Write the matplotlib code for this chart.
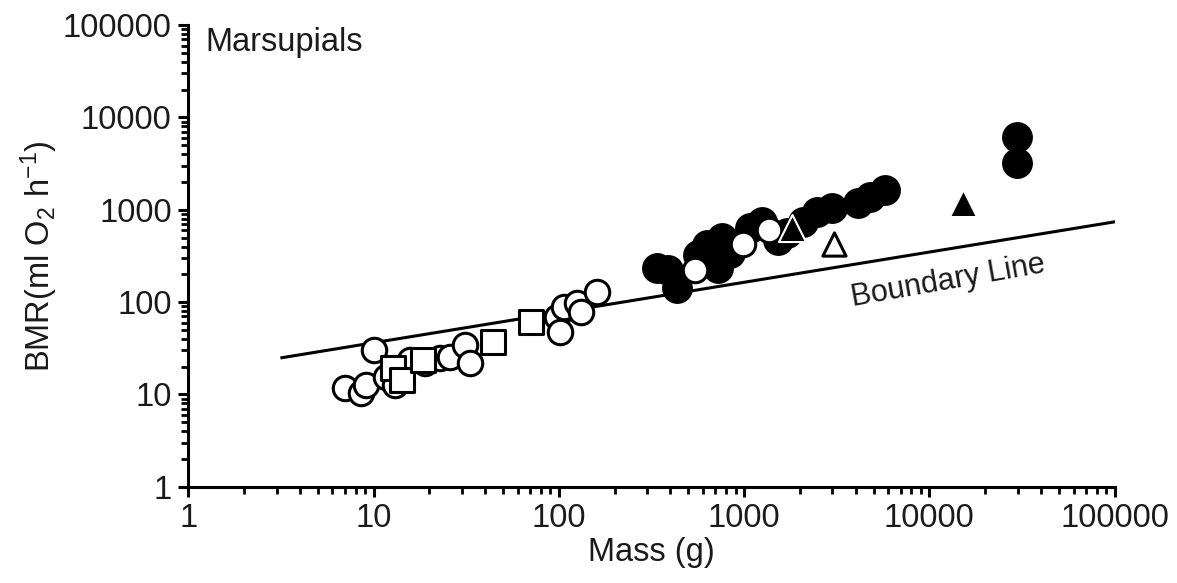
import matplotlib
matplotlib.use("Agg")
import matplotlib.pyplot as plt
from matplotlib.ticker import LogLocator, NullFormatter

plt.rcParams['font.family'] = ['Liberation Sans', 'DejaVu Sans']
plt.rcParams['mathtext.default'] = 'regular'

# open circles (mass g, BMR ml O2/h)
open_circle_mass = [7.0, 8.5, 9.1, 10.0, 11.6, 13.1, 15.8, 19.0, 22.9, 25.9, 31.3, 33.2,
                    98, 102, 106, 126, 131, 161, 545, 989, 1366]
open_circle_bmr = [11.8, 10.4, 12.7, 30.4, 15.5, 12.7, 23.7, 22.0, 24.9, 25.5, 34.4, 22.0,
                   69, 47.5, 88.7, 98, 78, 129, 223, 427, 604]

# open squares
square_mass = [12.8, 14.3, 18.5, 44.3, 71]
square_bmr = [19.4, 14.4, 23.7, 37.1, 61]

# filled circles
filled_mass = [340, 389, 436, 565, 632, 725, 762, 842, 1079, 1253, 1528, 1700,
               2083, 2480, 2988, 4130, 4796, 5769, 29770, 29770]
filled_bmr = [234, 223, 142, 324, 416, 234, 495, 341, 635, 738, 471, 560,
              738, 946, 1045, 1186, 1376, 1638, 6135, 3209]

# triangles
filled_tri_mass = [1818, 15210]
filled_tri_bmr = [635, 1185]
open_tri_mass = [3064]
open_tri_bmr = [426]

# boundary line end points
boundary_mass = [3.2, 100000]
boundary_bmr = [25, 740]

xtick_vals = [1, 10, 100, 1000, 10000, 100000]
xtick_labels = ['1', '10', '100', '1000', '10000', '100000']
ytick_vals = [1, 10, 100, 1000, 10000, 100000]
ytick_labels = ['1', '10', '100', '1000', '10000', '100000']

fig = plt.figure(figsize=(11.77, 5.83), dpi=100)
ax = fig.add_axes([0.160, 0.165, 0.787, 0.792])
ax.set_xscale('log')
ax.set_yscale('log')

ax.plot(boundary_mass, boundary_bmr, color='black', lw=2.2, zorder=1)

ax.scatter(filled_mass, filled_bmr, s=450, facecolor='black', edgecolor='black',
           linewidths=1, zorder=2)
ax.scatter(open_circle_mass, open_circle_bmr, s=310, facecolor='white', edgecolor='black',
           linewidths=2.2, zorder=3)
ax.scatter(square_mass, square_bmr, s=300, marker='s', facecolor='white', edgecolor='black',
           linewidths=2.2, zorder=4)
ax.scatter(filled_tri_mass, filled_tri_bmr, s=380, marker='^', facecolor='black',
           edgecolor='white', linewidths=1.5, zorder=5)
ax.scatter(open_tri_mass, open_tri_bmr, s=280, marker='^', facecolor='white',
           edgecolor='black', linewidths=2.2, zorder=5)

ax.set_xlim(1, 100000)
ax.set_ylim(1, 100000)

ax.set_xticks(xtick_vals)
ax.set_xticklabels(xtick_labels)
ax.set_yticks(ytick_vals)
ax.set_yticklabels(ytick_labels)
for axis in (ax.xaxis, ax.yaxis):
    axis.set_minor_locator(LogLocator(base=10, subs=range(2, 10), numticks=20))
    axis.set_minor_formatter(NullFormatter())

for side in ('top', 'right'):
    ax.spines[side].set_visible(False)
for side in ('left', 'bottom'):
    ax.spines[side].set_linewidth(2.2)

ax.tick_params(which='major', direction='out', length=7, width=2.2, labelsize=23.5,
               pad=5, colors='black', labelcolor='#1a1a1a')
ax.tick_params(which='minor', direction='out', length=5, width=2.0)

ax.set_xlabel('Mass (g)', fontsize=23.5, labelpad=2, color='#1a1a1a')
ax.set_ylabel('BMR(ml O$_2$ h$^{-1}$)', fontsize=23.5, labelpad=2, color='#1a1a1a')

ax.text(0.018, 0.995, 'Marsupials', transform=ax.transAxes, fontsize=23.5,
        ha='left', va='top', color='#1a1a1a')
ax.text(12600, 168, 'Boundary Line', fontsize=22, rotation=10, ha='center',
        va='center', rotation_mode='anchor', color='#1a1a1a')

fig.savefig('out.png', dpi=100)
